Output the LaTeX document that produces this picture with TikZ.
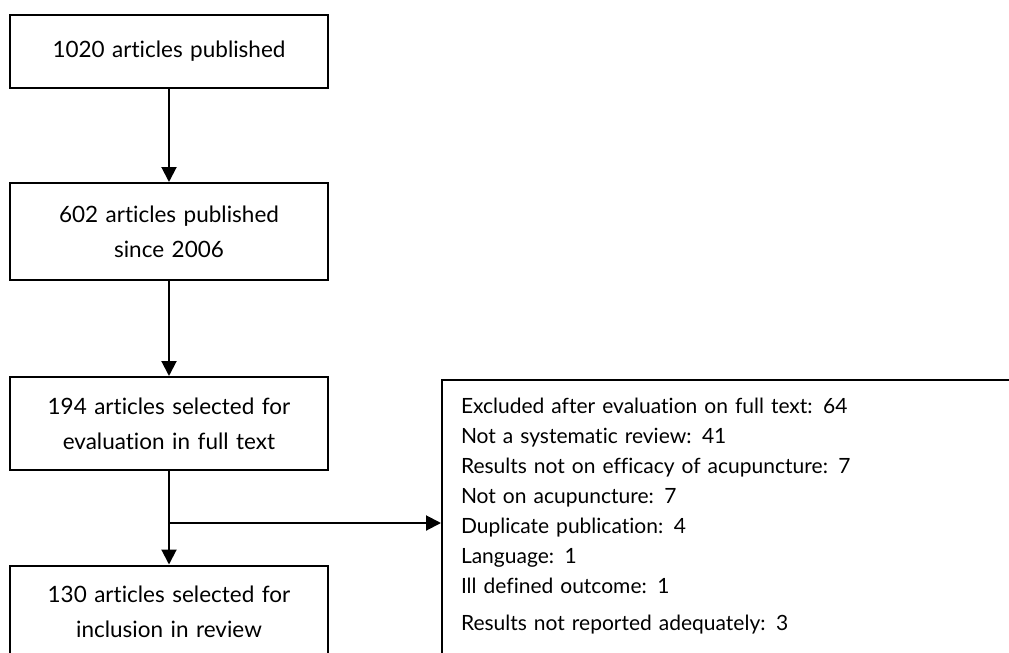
\documentclass[tikz,border=0pt]{standalone}
\usepackage{fontspec}
\setmainfont{Lato}[Ligatures=NoCommon]
\usepackage{tikz}
\usetikzlibrary{arrows.meta}

\tikzset{
  stage/.style={draw,rectangle,line width=2pt,minimum width=318pt,text width=310pt,align=center,inner sep=0pt,font=\fontsize{22.5}{35}\selectfont},
  flow/.style={line width=2pt,-{Triangle[length=15pt,width=15pt]}}
}

\begin{document}
\begin{tikzpicture}[x=1pt,y=-1pt]
\useasboundingbox (0,0) rectangle (1009,653);
\clip (0,0) rectangle (1009,653);

\node [stage,minimum height=73pt] (pub) at (169,51.5) {1020 articles published};
\node [stage,minimum height=97pt] (since) at (169,231.5) {602 articles published\\since 2006};
\node [stage,minimum height=93pt] (eval) at (169,423.5) {194 articles selected for\\evaluation in full text};
\node [stage,minimum height=93pt] (incl) at (169,612) {130 articles selected for\\inclusion in review};

\node [draw,rectangle,line width=2pt,anchor=north west,align=left,text width=560pt,inner xsep=19pt,inner ysep=18pt,font=\fontsize{21}{30}\selectfont] (excl) at (441,379)
  {Excluded after evaluation on full text: 64\\
   Not a systematic review: 41\\
   Results not on efficacy of acupuncture: 7\\
   Not on acupuncture: 7\\
   Duplicate publication: 4\\
   Language: 1\\
   Ill defined outcome: 1\\[7pt]
   Results not reported adequately: 3\\[20pt]
   \strut};

\draw [flow] (pub) -- (since);
\draw [flow] (since) -- (eval);
\draw [flow] (eval) -- (incl);
\coordinate (split) at (169,523);
\draw [flow] (split) -- (split -| excl.west);
\end{tikzpicture}
\end{document}
